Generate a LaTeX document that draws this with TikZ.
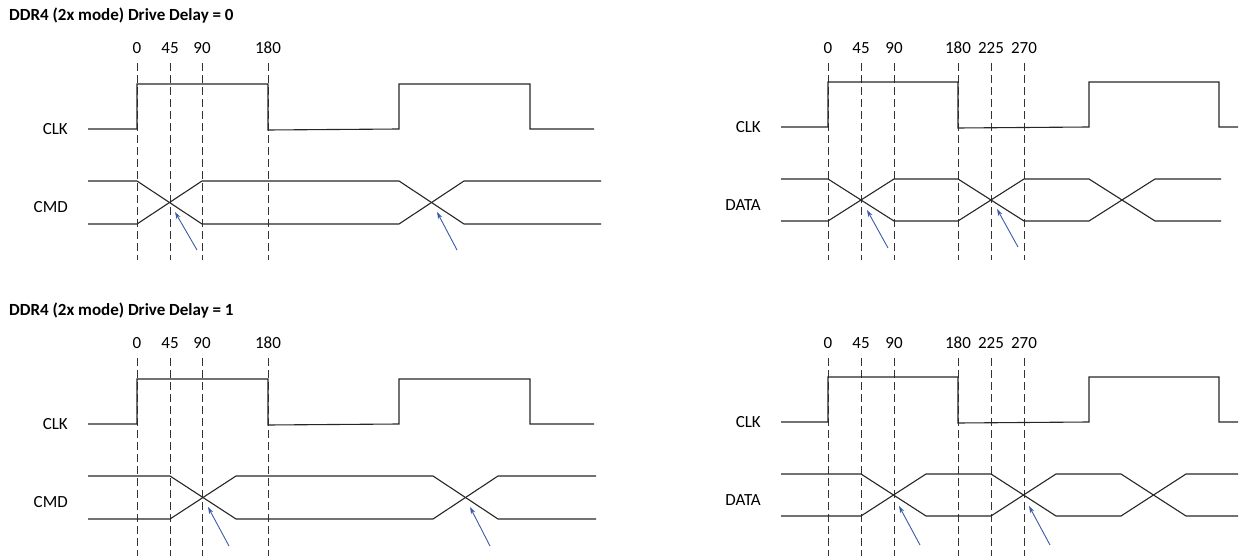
\documentclass[tikz,border=0pt]{standalone}
\usepackage{fontspec}
\setmainfont{Carlito}
\usepackage{xcolor}
\usepackage{tikz}
\usetikzlibrary{arrows.meta}
\definecolor{arrowblue}{RGB}{58,92,168}

\begin{document}
\begin{tikzpicture}[x=1pt, y=-1pt,
  every node/.style={font=\fontsize{17}{20}\selectfont, inner sep=0pt},
  title/.style={font=\fontsize{17}{20}\selectfont\bfseries, anchor=west},
  signame/.style={anchor=east},
  wave/.style={line width=1.1pt, black!85},
  guide/.style={line width=1pt, black!80, dash pattern=on 8pt off 4pt},
  pointer/.style={line width=0.9pt, arrowblue, -{Stealth[length=7pt, width=4.5pt]}}]
  \useasboundingbox (0,0) rectangle (1240,556);

  % --- Drive Delay = 0, CMD ---
  \node[title] (title0) at (9,16) {DDR4 (2x mode) Drive Delay = 0};
  \foreach \p/\x in {0/137, 45/170, 90/202, 180/268} {
    \node (phA\p) at (\x,48) {\p};
    \draw[guide] (\x,63) -- (\x,260);
  }
  \node[signame] (clkA) at (68,129) {CLK};
  \draw[wave] (88,129) -- (137,129) -- (137,84) -- (268,84) -- (268,130)
    -- (399,129) -- (399,84) -- (530,84) -- (530,129) -- (594,129);
  \node[signame] (cmdA) at (68,207) {CMD};
  \draw[wave] (88,181) -- (137,181) -- (202,224) -- (399,224) -- (464,181) -- (601,181);
  \draw[wave] (88,224) -- (137,224) -- (202,181) -- (399,181) -- (464,224) -- (601,224);
  \coordinate (eyeA1) at (175,212); \coordinate (tailA1) at (197,250);
  \coordinate (eyeA2) at (437,212); \coordinate (tailA2) at (457,250);
  \draw[pointer] (tailA1) -- (eyeA1);
  \draw[pointer] (tailA2) -- (eyeA2);

  % --- Drive Delay = 0, DATA ---
  \foreach \p/\x in {0/828, 45/861, 90/894, 180/958, 225/991, 270/1024} {
    \node (phB\p) at (\x,48) {\p};
    \draw[guide] (\x,63) -- (\x,260);
  }
  \node[signame] (clkB) at (761,127) {CLK};
  \draw[wave] (781,127) -- (828,127) -- (828,82) -- (958,82) -- (958,128)
    -- (1089,127) -- (1089,82) -- (1219,82) -- (1219,127) -- (1238,127);
  \node[signame] (dataB) at (761,205) {DATA};
  \draw[wave] (781,179) -- (828,179) -- (894,221) -- (958,221) -- (1024,179)
    -- (1089,179) -- (1155,221) -- (1221,221);
  \draw[wave] (781,221) -- (828,221) -- (894,179) -- (958,179) -- (1024,221)
    -- (1089,221) -- (1155,179) -- (1221,179);
  \coordinate (eyeB1) at (867,210); \coordinate (tailB1) at (888,248);
  \coordinate (eyeB2) at (997,209); \coordinate (tailB2) at (1018,247);
  \draw[pointer] (tailB1) -- (eyeB1);
  \draw[pointer] (tailB2) -- (eyeB2);

  % --- Drive Delay = 1, CMD ---
  \node[title] (title1) at (9,311) {DDR4 (2x mode) Drive Delay = 1};
  \foreach \p/\x in {0/137, 45/170, 90/202, 180/268} {
    \node (phC\p) at (\x,343) {\p};
    \draw[guide] (\x,358) -- (\x,556);
  }
  \node[signame] (clkC) at (68,424) {CLK};
  \draw[wave] (88,424) -- (137,424) -- (137,379) -- (268,379) -- (268,425)
    -- (399,424) -- (399,379) -- (530,379) -- (530,424) -- (594,424);
  \node[signame] (cmdC) at (68,502) {CMD};
  \draw[wave] (88,476) -- (170,476) -- (236,519) -- (433,519) -- (498,476) -- (596,476);
  \draw[wave] (88,519) -- (170,519) -- (236,476) -- (433,476) -- (498,519) -- (596,519);
  \coordinate (eyeC1) at (208,507); \coordinate (tailC1) at (229,546);
  \coordinate (eyeC2) at (470,507); \coordinate (tailC2) at (490,546);
  \draw[pointer] (tailC1) -- (eyeC1);
  \draw[pointer] (tailC2) -- (eyeC2);

  % --- Drive Delay = 1, DATA ---
  \foreach \p/\x in {0/828, 45/861, 90/894, 180/958, 225/991, 270/1024} {
    \node (phD\p) at (\x,343) {\p};
    \draw[guide] (\x,358) -- (\x,556);
  }
  \node[signame] (clkD) at (761,422) {CLK};
  \draw[wave] (781,422) -- (828,422) -- (828,377) -- (958,377) -- (958,423)
    -- (1089,422) -- (1089,377) -- (1219,377) -- (1219,422) -- (1238,422);
  \node[signame] (dataD) at (761,500) {DATA};
  \draw[wave] (781,474) -- (861,474) -- (926,516) -- (991,516) -- (1056,474)
    -- (1121,474) -- (1186,516) -- (1238,516);
  \draw[wave] (781,516) -- (861,516) -- (926,474) -- (991,474) -- (1056,516)
    -- (1121,516) -- (1186,474) -- (1238,474);
  \coordinate (eyeD1) at (899,506); \coordinate (tailD1) at (920,545);
  \coordinate (eyeD2) at (1029,506); \coordinate (tailD2) at (1050,545);
  \draw[pointer] (tailD1) -- (eyeD1);
  \draw[pointer] (tailD2) -- (eyeD2);
\end{tikzpicture}
\end{document}
